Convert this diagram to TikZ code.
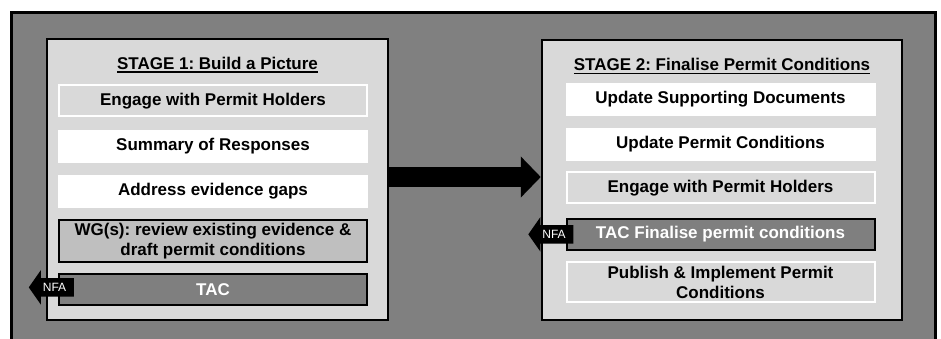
\documentclass[tikz,border=0pt]{standalone}
\usepackage{fontspec}
\setmainfont{Liberation Sans}
\usepackage{tikz}
\usetikzlibrary{arrows.meta,shapes.arrows,positioning}
\frenchspacing

\definecolor{outergray}{RGB}{128,128,128}
\definecolor{stagegray}{RGB}{217,217,217}
\definecolor{wggray}{RGB}{191,191,191}
\definecolor{tacgray}{RGB}{127,127,127}

% underlined stage title
\newcommand\stagetitle[1]{\setbox0\hbox{#1}\rlap{\rule[-3.5pt]{\wd0}{1.4pt}}\box0}

\tikzset{
    stepfont/.style={font=\fontsize{17}{20}\selectfont\bfseries},
    stagebox/.style={draw=black, line width=2.5pt, fill=stagegray},
    header/.style={stepfont, inner sep=0pt},
    plainstep/.style={stepfont, fill=white, align=center, minimum width=310pt, minimum height=33pt, inner sep=0pt},
    holderstep/.style={plainstep, draw=white, line width=2pt, fill=stagegray, minimum width=308pt, minimum height=31pt},
    wgstep/.style={holderstep, draw=black, fill=wggray},
    tacstep/.style={holderstep, draw=black, fill=tacgray, text=white},
    nfa/.style={single arrow, shape border rotate=180, fill=black, text=white,
        font=\fontsize{12}{12}\selectfont, inner xsep=1pt, inner ysep=5pt,
        single arrow head extend=8pt, single arrow tip angle=110, minimum height=45pt},
    bigarrow/.style={line width=20pt, -{Triangle[length=20pt,width=40pt]}}
}

\begin{document}
\begin{tikzpicture}[x=1pt,y=-1pt,node distance=45pt,on grid]
    \useasboundingbox (0,0) rectangle (941,338);
    \draw[line width=3pt, fill=outergray] (11,12) rectangle (935,350);

    % stage 1
    \node[stagebox, minimum width=341pt, minimum height=281pt] (stage1) at (217.5,179.5) {};
    \node[header] (head1) [below=19pt of stage1.north] {\stagetitle{STAGE 1: Build a Picture}};
    \node[holderstep] (engage1) [below=36pt of head1, xshift=-4.5pt] {Engage with Permit Holders};
    \node[plainstep]  (summary1) [below=45.5pt of engage1] {Summary of Responses};
    \node[plainstep]  (gaps1) [below=45pt of summary1] {Address evidence gaps};
    \node[wgstep, minimum height=42pt] (wg1) [below=50pt of gaps1] {WG(s): review existing evidence \&\\draft permit conditions};
    \node[tacstep]    (tac1) [below=48pt of wg1] {TAC};
    \node[nfa, anchor=tail] (nfa1) at ([xshift=16pt,yshift=2pt]tac1.west) {NFA};

    % stage 2
    \node[stagebox, minimum width=360pt, minimum height=280pt] (stage2) at (722,180) {};
    \node[header] (head2) [below=19.5pt of stage2.north] {\stagetitle{STAGE 2: Finalise Permit Conditions}};
    \node[plainstep]  (docs2) [below=33pt of head2, xshift=-1.5pt] {Update Supporting Documents};
    \node[plainstep]  (cond2) [below=45pt of docs2] {Update Permit Conditions};
    \node[holderstep] (engage2) [below=43.5pt of cond2] {Engage with Permit Holders};
    \node[tacstep]    (tac2) [below=46.5pt of engage2] {TAC Finalise permit conditions};
    \node[holderstep, minimum height=40pt] (publish2) [below=48pt of tac2] {Publish \& Implement Permit\\Conditions};
    \node[nfa, anchor=tail] (nfa2) at ([xshift=8pt]tac2.west) {NFA};

    % stage 1 to stage 2
    \coordinate (gostart) at ([yshift=2.5pt]stage1.east);
    \coordinate (goend) at (gostart -| stage2.west);
    \draw[bigarrow] (gostart) -- (goend);
\end{tikzpicture}
\end{document}
